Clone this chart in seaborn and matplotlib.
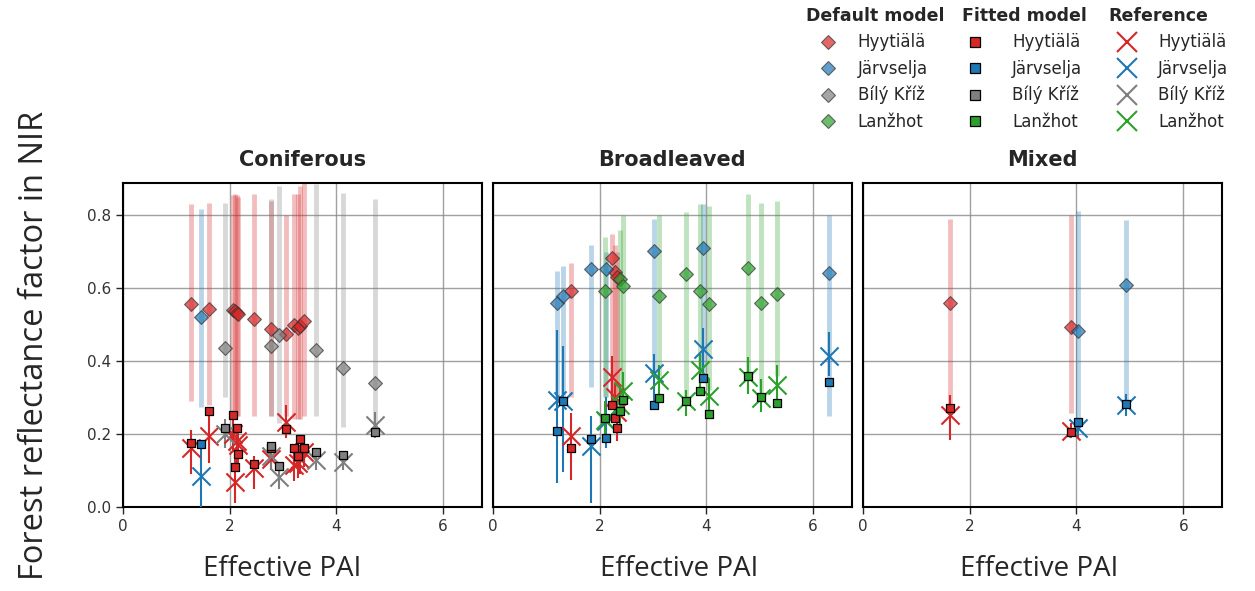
import numpy as np
import pandas as pd
import matplotlib
matplotlib.use("Agg")
import matplotlib.pyplot as plt
from matplotlib.lines import Line2D
import seaborn as sns

# site names and colours
sites = ["Hyytiälä", "Järvselja", "Bílý Kříž", "Lanžhot"]
site_colors = ["#d62728", "#1f77b4", "#7f7f7f", "#2ca02c"]
panels = ["Coniferous", "Broadleaved", "Mixed"]

# ---- Coniferous ----
con_hyy_pai = [1.27, 1.62, 2.07, 2.10, 2.13, 2.15, 2.45, 2.77, 3.05, 3.21, 3.28, 3.31, 3.40]
con_hyy_def = [0.558, 0.543, 0.540, 0.537, 0.533, 0.530, 0.516, 0.488, 0.475, 0.500, 0.490, 0.495, 0.509]
con_hyy_def_lo = [0.29, 0.28, 0.25, 0.25, 0.25, 0.25, 0.25, 0.25, 0.25, 0.24, 0.24, 0.24, 0.25]
con_hyy_def_hi = [0.83, 0.835, 0.855, 0.86, 0.855, 0.85, 0.858, 0.84, 0.80, 0.86, 0.86, 0.88, 0.89]
con_hyy_fit = [0.176, 0.263, 0.252, 0.110, 0.216, 0.145, 0.117, 0.160, 0.213, 0.160, 0.140, 0.186, 0.160]
con_hyy_ref = [0.160, 0.193, 0.200, 0.069, 0.180, 0.170, 0.105, 0.130, 0.234, 0.115, 0.120, 0.130, 0.150]
con_hyy_ref_lo = [0.09, 0.12, 0.15, 0.01, 0.12, 0.12, 0.05, 0.10, 0.19, 0.07, 0.08, 0.09, 0.11]
con_hyy_ref_hi = [0.21, 0.26, 0.26, 0.13, 0.22, 0.21, 0.14, 0.16, 0.28, 0.16, 0.16, 0.17, 0.19]

con_jar_pai = [1.46]
con_jar_def = [0.521]
con_jar_def_lo = [0.275]
con_jar_def_hi = [0.817]
con_jar_fit = [0.172]
con_jar_ref = [0.083]
con_jar_ref_lo = [0.0]
con_jar_ref_hi = [0.17]

con_bk_pai = [1.91, 2.77, 2.93, 3.61, 4.12, 4.73]
con_bk_def = [0.436, 0.440, 0.472, 0.430, 0.380, 0.341]
con_bk_def_lo = [0.30, 0.25, 0.23, 0.248, 0.22, 0.211]
con_bk_def_hi = [0.835, 0.845, 0.88, 0.885, 0.862, 0.846]
con_bk_fit = [0.216, 0.167, 0.112, 0.150, 0.142, 0.206]
con_bk_ref = [0.200, 0.138, 0.081, 0.128, 0.124, 0.225]
con_bk_ref_lo = [0.16, 0.10, 0.05, 0.10, 0.10, 0.19]
con_bk_ref_hi = [0.24, 0.17, 0.11, 0.15, 0.15, 0.26]

# ---- Broadleaved ----
bro_hyy_pai = [1.46, 2.24, 2.29, 2.33]
bro_hyy_def = [0.592, 0.683, 0.644, 0.630]
bro_hyy_def_lo = [0.30, 0.30, 0.30, 0.30]
bro_hyy_def_hi = [0.67, 0.75, 0.72, 0.70]
bro_hyy_fit = [0.161, 0.278, 0.243, 0.216]
bro_hyy_ref = [0.193, 0.356, 0.300, 0.260]
bro_hyy_ref_lo = [0.073, 0.275, 0.25, 0.18]
bro_hyy_ref_hi = [0.257, 0.413, 0.34, 0.30]

bro_jar_pai = [1.21, 1.32, 1.84, 2.12, 3.02, 3.93, 6.29]
bro_jar_def = [0.560, 0.578, 0.653, 0.653, 0.702, 0.711, 0.642]
bro_jar_def_lo = [0.30, 0.30, 0.33, 0.30, 0.37, 0.36, 0.25]
bro_jar_def_hi = [0.647, 0.66, 0.72, 0.70, 0.79, 0.83, 0.80]
bro_jar_fit = [0.208, 0.291, 0.185, 0.190, 0.278, 0.353, 0.342]
bro_jar_ref = [0.294, 0.289, 0.167, 0.235, 0.367, 0.433, 0.415]
bro_jar_ref_lo = [0.064, 0.096, 0.01, 0.16, 0.29, 0.367, 0.36]
bro_jar_ref_hi = [0.486, 0.44, 0.248, 0.30, 0.42, 0.49, 0.48]

bro_lan_pai = [2.10, 2.38, 2.43, 3.12, 3.61, 3.88, 4.05, 4.77, 5.03, 5.32]
bro_lan_def = [0.592, 0.626, 0.607, 0.580, 0.639, 0.592, 0.558, 0.656, 0.560, 0.585]
bro_lan_def_lo = [0.30, 0.30, 0.30, 0.36, 0.30, 0.37, 0.32, 0.36, 0.31, 0.36]
bro_lan_def_hi = [0.74, 0.76, 0.80, 0.80, 0.81, 0.83, 0.825, 0.86, 0.835, 0.84]
bro_lan_fit = [0.245, 0.264, 0.294, 0.298, 0.289, 0.319, 0.254, 0.360, 0.300, 0.286]
bro_lan_ref = [0.239, 0.280, 0.319, 0.349, 0.289, 0.376, 0.303, 0.356, 0.298, 0.335]
bro_lan_ref_lo = [0.19, 0.22, 0.26, 0.30, 0.25, 0.33, 0.26, 0.31, 0.26, 0.29]
bro_lan_ref_hi = [0.29, 0.33, 0.37, 0.39, 0.32, 0.42, 0.35, 0.41, 0.35, 0.39]

# ---- Mixed ----
mix_hyy_pai = [1.64, 3.89]
mix_hyy_def = [0.559, 0.493]
mix_hyy_def_lo = [0.274, 0.256]
mix_hyy_def_hi = [0.791, 0.80]
mix_hyy_fit = [0.272, 0.205]
mix_hyy_ref = [0.251, 0.208]
mix_hyy_ref_lo = [0.182, 0.19]
mix_hyy_ref_hi = [0.306, 0.23]

mix_jar_pai = [4.03, 4.92]
mix_jar_def = [0.483, 0.608]
mix_jar_def_lo = [0.219, 0.274]
mix_jar_def_hi = [0.812, 0.786]
mix_jar_fit = [0.233, 0.281]
mix_jar_ref = [0.217, 0.279]
mix_jar_ref_lo = [0.19, 0.25]
mix_jar_ref_hi = [0.24, 0.31]

rows = []
def add(panel, site, pai, d, dlo, dhi, f, r, rlo, rhi):
    for i in range(len(pai)):
        rows.append(dict(panel=panel, site=site, pai=pai[i], default=d[i], def_lo=dlo[i],
                         def_hi=dhi[i], fitted=f[i], ref=r[i], ref_lo=rlo[i], ref_hi=rhi[i]))

add("Coniferous", "Hyytiälä", con_hyy_pai, con_hyy_def, con_hyy_def_lo, con_hyy_def_hi, con_hyy_fit, con_hyy_ref, con_hyy_ref_lo, con_hyy_ref_hi)
add("Coniferous", "Järvselja", con_jar_pai, con_jar_def, con_jar_def_lo, con_jar_def_hi, con_jar_fit, con_jar_ref, con_jar_ref_lo, con_jar_ref_hi)
add("Coniferous", "Bílý Kříž", con_bk_pai, con_bk_def, con_bk_def_lo, con_bk_def_hi, con_bk_fit, con_bk_ref, con_bk_ref_lo, con_bk_ref_hi)
add("Broadleaved", "Hyytiälä", bro_hyy_pai, bro_hyy_def, bro_hyy_def_lo, bro_hyy_def_hi, bro_hyy_fit, bro_hyy_ref, bro_hyy_ref_lo, bro_hyy_ref_hi)
add("Broadleaved", "Järvselja", bro_jar_pai, bro_jar_def, bro_jar_def_lo, bro_jar_def_hi, bro_jar_fit, bro_jar_ref, bro_jar_ref_lo, bro_jar_ref_hi)
add("Broadleaved", "Lanžhot", bro_lan_pai, bro_lan_def, bro_lan_def_lo, bro_lan_def_hi, bro_lan_fit, bro_lan_ref, bro_lan_ref_lo, bro_lan_ref_hi)
add("Mixed", "Hyytiälä", mix_hyy_pai, mix_hyy_def, mix_hyy_def_lo, mix_hyy_def_hi, mix_hyy_fit, mix_hyy_ref, mix_hyy_ref_lo, mix_hyy_ref_hi)
add("Mixed", "Järvselja", mix_jar_pai, mix_jar_def, mix_jar_def_lo, mix_jar_def_hi, mix_jar_fit, mix_jar_ref, mix_jar_ref_lo, mix_jar_ref_hi)
df = pd.DataFrame(rows)

sns.set_style("ticks")
plt.rcParams['font.family'] = ['DejaVu Sans']

fig, axes = plt.subplots(1, 3, sharey=True, figsize=(12.55, 5.91), dpi=100)
fig.subplots_adjust(left=0.0978, right=0.9735, bottom=0.1426, top=0.691, wspace=0.031)

for ax, panel in zip(axes, panels):
    sub = df[df.panel == panel]
    for site, col in zip(sites, site_colors):
        s = sub[sub.site == site]
        if len(s) == 0:
            continue
        ax.vlines(s.pai, s.def_lo, s.def_hi, color=col, alpha=0.3, lw=3.5, zorder=2)
        sns.scatterplot(x=s.pai, y=s.default, ax=ax, marker="D", s=50, color=col,
                        alpha=0.7, edgecolor="#333333", linewidth=0.8, zorder=3, legend=False)
        ax.vlines(s.pai, s.ref_lo, s.ref_hi, color=col, lw=1.5, zorder=4)
        sns.scatterplot(x=s.pai, y=s.ref, ax=ax, marker="x", s=170, color=col,
                        linewidth=1.5, zorder=5, legend=False)
        sns.scatterplot(x=s.pai, y=s.fitted, ax=ax, marker="s", s=38, color=col,
                        edgecolor="black", linewidth=0.9, zorder=6, legend=False)
    ax.set_xlim(0, 6.72)
    ax.set_ylim(0, 0.89)
    ax.set_xticks([0, 2, 4, 6])
    ax.set_yticks([0.0, 0.2, 0.4, 0.6, 0.8])
    ax.grid(True, color="#888888", lw=1.0, alpha=0.8, zorder=0)
    ax.set_axisbelow(True)
    for sp in ax.spines.values():
        sp.set_color("black")
        sp.set_linewidth(1.5)
    ax.tick_params(labelsize=11, labelcolor="#333333", length=5, width=1)
    ax.set_title(panel, fontsize=15, fontweight="bold", pad=12)
    ax.set_xlabel("Effective PAI", fontsize=20, fontfamily="Open Sans")
    ax.set_ylabel("")

axes[0].xaxis.set_label_coords(0.445, -0.15)
axes[1].xaxis.set_label_coords(0.52, -0.15)
axes[2].xaxis.set_label_coords(0.49, -0.15)
for ax in axes[1:]:
    ax.tick_params(left=False)

fig.text(35 / 1255, 1 - 345 / 591, "Forest reflectance factor in NIR", rotation=90,
         fontsize=23.5, fontfamily="Open Sans", ha="center", va="center")

# three legend groups: (title, handles, left x, handlelength, handletextpad)
def_handles = [Line2D([], [], marker="D", ls="none", color=c, alpha=0.7, mec="#333333",
                      mew=0.8, ms=7) for c in site_colors]
fit_handles = [Line2D([], [], marker="s", ls="none", color=c, mec="black", mew=0.9, ms=6.5)
               for c in site_colors]
ref_handles = [Line2D([], [], marker="x", ls="none", color=c, mew=1.5, ms=14)
               for c in site_colors]
groups = [("Default model", def_handles, 806, 2.6, 0.5),
          ("Fitted model", fit_handles, 962, 1.55, 1.45),
          ("Reference", ref_handles, 1108, 2.3, 0.7)]
for title, handles, x0, hl, htp in groups:
    fig.legend(handles, sites, title=title, loc="upper left",
               bbox_to_anchor=(x0 / 1255, 1 - 7 / 591), frameon=False, fontsize=12,
               title_fontproperties={"weight": "bold", "size": 12.5}, alignment="left",
               borderpad=0, labelspacing=0.5, handletextpad=htp, handlelength=hl,
               borderaxespad=0)

fig.savefig("out.png", dpi=100)
